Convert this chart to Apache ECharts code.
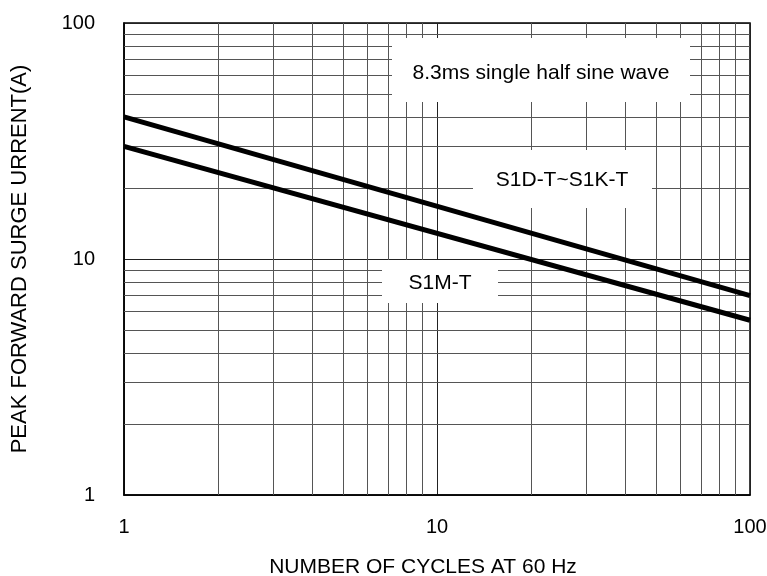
<!DOCTYPE html>
<html><head><meta charset="utf-8">
<script src="https://cdn.jsdelivr.net/npm/echarts@6/dist/echarts.min.js"></script>
<style>html,body{margin:0;padding:0;background:#fff}#c{width:767px;height:576px}</style>
</head><body><div id="c"></div>
<script>
// Data (log-log straight lines)
const cycles = [1, 100];
const s1dToS1k = [40, 7];
const s1m = [30, 5.5];
const minorGridX = [2,3,4,5,6,7,8,9,20,30,40,50,60,70,80,90];
const minorGridY = [2,3,4,5,6,7,8,9,20,30,40,50,60,70,80,90];
const xTicks = [1, 10, 100];
const yTicks = [1, 10, 100];
const seriesNames = ['S1D-T~S1K-T', 'S1M-T'];
const noteText = '8.3ms single half sine wave';

const FONT = 'Liberation Sans, Arial, sans-serif';
const chart = echarts.init(document.getElementById('c'));

function pairs(xs, ys){ return xs.map((x,i)=>[x, ys[i]]); }

const minorLines = minorGridX.map(v=>({xAxis:v})).concat(minorGridY.map(v=>({yAxis:v})));

function box(x, y, w, h, text, tx, ty){
  return [
    {type:'rect', z:100, shape:{x:x, y:y, width:w, height:h}, style:{fill:'#fff', stroke:null}},
    {type:'text', z:101, x:tx, y:ty, style:{text:text, font:'21px '+FONT, fill:'#000', textAlign:'center', textVerticalAlign:'middle'}}
  ];
}

chart.setOption({
  animation:false,
  backgroundColor:'#fff',
  grid:{left:124, right:17, top:23, bottom:81, containLabel:false, outerBoundsMode:'none',
    show:true, borderColor:'#000', borderWidth:1.5, backgroundColor:'#fff'},
  xAxis:{
    type:'log', logBase:10, min:1, max:100,
    name:'NUMBER OF CYCLES AT 60 Hz', nameLocation:'middle', nameGap:62,
    nameTextStyle:{fontFamily:FONT, fontSize:21, color:'#000', padding:[0,28,0,0]},
    axisLine:{show:true, lineStyle:{color:'#000', width:1.5}},
    axisTick:{show:false},
    axisLabel:{fontFamily:FONT, fontSize:20, color:'#000', margin:22,
      formatter:v=> xTicks.indexOf(Math.round(v))>=0 ? String(Math.round(v)) : ''},
    splitLine:{show:true, lineStyle:{color:'#222', width:1}}
  },
  yAxis:{
    type:'log', logBase:10, min:1, max:100,
    name:'PEAK FORWARD SURGE URRENT(A)', nameLocation:'middle', nameGap:93,
    nameTextStyle:{fontFamily:FONT, fontSize:22, color:'#000'},
    axisLine:{show:true, lineStyle:{color:'#000', width:1.5}},
    axisTick:{show:false},
    axisLabel:{fontFamily:FONT, fontSize:20, color:'#000', margin:29,
      formatter:v=> yTicks.indexOf(Math.round(v))>=0 ? String(Math.round(v)) : ''},
    splitLine:{show:true, lineStyle:{color:'#222', width:1}}
  },
  series:[
    {
      type:'line', name:'grid', data:[], z:1, silent:true,
      markLine:{silent:true, symbol:['none','none'], label:{show:false},
        lineStyle:{color:'#555', width:1, type:'solid'}, animation:false, data:minorLines}
    },
    {type:'line', name:seriesNames[0], data:pairs(cycles, s1dToS1k), showSymbol:false, symbol:'none', z:5,
      lineStyle:{color:'#000', width:5}},
    {type:'line', name:seriesNames[1], data:pairs(cycles, s1m), showSymbol:false, symbol:'none', z:5,
      lineStyle:{color:'#000', width:5}}
  ],
  graphic:{elements:[].concat(
    box(392, 38, 298, 64, noteText, 541, 73),
    box(473, 150, 179, 58, seriesNames[0], 562, 180),
    box(382, 260, 116, 43, seriesNames[1], 440, 283)
  )}
});
</script></body></html>
